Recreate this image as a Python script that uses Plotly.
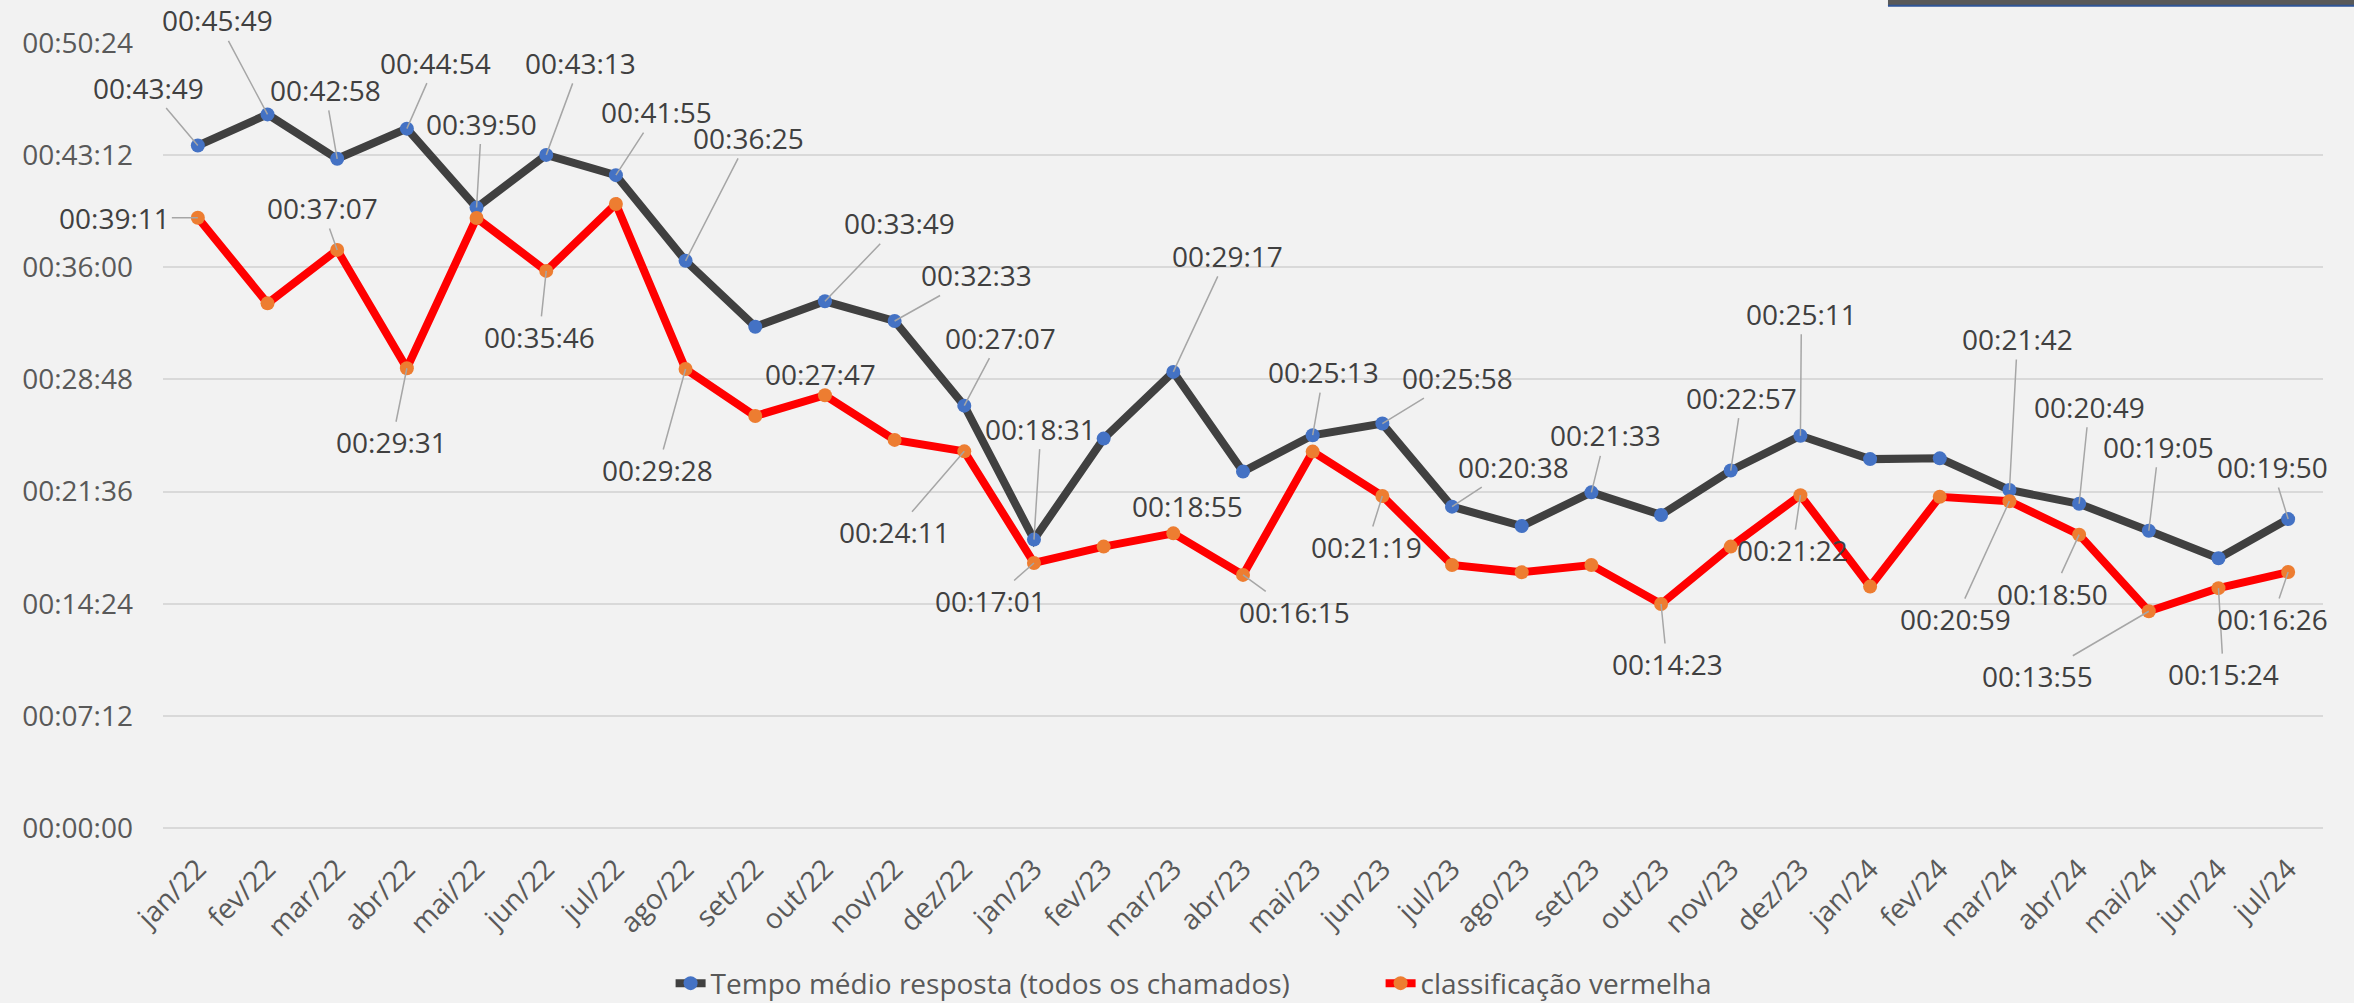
"""
Tempo médio de resposta vs classificação vermelha — gráfico de linhas (Plotly).
"""

import plotly.graph_objects as go

# ─── Dados ───────────────────────────────────────────────────────────────────

MESES = [
    "jan/22", "fev/22", "mar/22", "abr/22", "mai/22", "jun/22", "jul/22", "ago/22",
    "set/22", "out/22", "nov/22", "dez/22", "jan/23", "fev/23", "mar/23", "abr/23",
    "mai/23", "jun/23", "jul/23", "ago/23", "set/23", "out/23", "nov/23", "dez/23",
    "jan/24", "fev/24", "mar/24", "abr/24", "mai/24", "jun/24", "jul/24",
]

TEMPO_MEDIO = [
    "00:43:49", "00:45:49", "00:42:58", "00:44:54", "00:39:50", "00:43:13", "00:41:55", "00:36:25",
    "00:32:11", "00:33:49", "00:32:33", "00:27:07", "00:18:31", "00:25:00", "00:29:17", "00:22:53",
    "00:25:13", "00:25:58", "00:20:38", "00:19:23", "00:21:33", "00:20:06", "00:22:57", "00:25:11",
    "00:23:41", "00:23:44", "00:21:42", "00:20:49", "00:19:05", "00:17:19", "00:19:50",
]

VERMELHA = [
    "00:39:11", "00:33:41", "00:37:07", "00:29:31", "00:39:10", "00:35:46", "00:40:04", "00:29:28",
    "00:26:27", "00:27:47", "00:24:55", "00:24:11", "00:17:01", "00:18:04", "00:18:55", "00:16:15",
    "00:24:10", "00:21:19", "00:16:53", "00:16:25", "00:16:53", "00:14:23", "00:18:04", "00:21:22",
    "00:15:30", "00:21:16", "00:20:59", "00:18:50", "00:13:55", "00:15:24", "00:16:26",
]

Y_TICK_LABELS = ["00:00:00", "00:07:12", "00:14:24", "00:21:36", "00:28:48", "00:36:00", "00:43:12", "00:50:24"]

NOMES = ["Tempo médio resposta (todos os chamados)", "classificação vermelha"]

# ─── Rótulos : décalage (px) du texte par rapport au point, leader oui/non ──

LABELS_PRETO = {
    0: (-49, -58), 1: (-50, -94), 2: (-12, -69), 3: (29, -66), 4: (5, -84), 5: (34, -92),
    6: (41, -63), 7: (63, -123), 9: (75, -78), 10: (82, -46), 11: (36, -68), 12: (7, -111),
    14: (54, -116), 16: (11, -63), 17: (75, -46), 18: (61, -40), 20: (14, -57), 22: (11, -73),
    23: (1, -122), 26: (8, -151), 27: (10, -97), 28: (10, -84), 30: (-16, -52),
}
LABELS_VERMELHO = {
    0: (-83, 0), 2: (-15, -42), 3: (-15, 74), 5: (-7, 66), 7: (-28, 101), 9: (-4, -21),
    11: (-70, 81), 12: (-43, 38), 14: (14, -27), 15: (51, 37), 17: (-16, 51), 21: (6, 60),
    23: (-8, 55), 26: (-54, 118), 27: (-27, 59), 28: (-111, 65), 29: (5, 86), 30: (-16, 47),
}
SEM_LEADER_VERMELHO = {9, 14}

FONT = "Open Sans, Lato, sans-serif"
TXT = "#404040"
BG = "#F2F2F2"


def to_sec(s):
    h, m, ss = (int(p) for p in s.split(":"))
    return h * 3600 + m * 60 + ss


y_preto = [to_sec(v) for v in TEMPO_MEDIO]
y_verm = [to_sec(v) for v in VERMELHA]

fig = go.Figure()
fig.add_trace(go.Scatter(
    x=MESES, y=y_preto, name=NOMES[0], mode="lines+markers",
    line=dict(color="#404040", width=8),
    marker=dict(color="#4472C4", size=14, line=dict(width=0)),
))
fig.add_trace(go.Scatter(
    x=MESES, y=y_verm, name=NOMES[1], mode="lines+markers",
    line=dict(color="#FF0000", width=8),
    marker=dict(color="#ED7D31", size=14, line=dict(width=0)),
))

annotations = []


def add_labels(values, ys, offsets, no_leader=()):
    for i, (ax, ay) in offsets.items():
        base = dict(x=MESES[i], y=ys[i], xref="x", yref="y", text=values[i],
                    font=dict(family=FONT, size=28, color=TXT))
        if i in no_leader:
            annotations.append(dict(base, showarrow=False, xshift=ax, yshift=-ay))
        else:
            annotations.append(dict(base, showarrow=True, ax=ax, ay=ay, arrowhead=0,
                                    arrowwidth=1.5, arrowcolor="#A6A6A6", standoff=0))


add_labels(TEMPO_MEDIO, y_preto, LABELS_PRETO)
add_labels(VERMELHA, y_verm, LABELS_VERMELHO, SEM_LEADER_VERMELHO)

fig.update_layout(
    width=2354,
    height=1003,
    margin=dict(l=163, r=31, t=43, b=175, autoexpand=False),
    paper_bgcolor=BG,
    plot_bgcolor=BG,
    font=dict(family=FONT, size=28, color="#595959"),
    showlegend=True,
    legend=dict(orientation="h", x=0.235, xanchor="left", y=-0.198, yanchor="middle",
                entrywidth=665, font=dict(size=28, color="#595959"), bgcolor="rgba(0,0,0,0)"),
    annotations=annotations,
    shapes=[
        dict(type="rect", xref="paper", yref="paper", x0=0.7986, x1=1.02, y0=1.0471, y1=1.06,
             fillcolor="#595959", line=dict(width=0), layer="above"),
        dict(type="line", xref="paper", yref="paper", x0=0.7986, x1=1.02, y0=1.0476, y1=1.0476,
             line=dict(color="#2F5597", width=2)),
    ],
    xaxis=dict(
        type="category", range=[-0.5, 30.5], showgrid=False, zeroline=False, showline=False,
        tickangle=-45, tickfont=dict(size=28, color="#595959"), ticks="", ticklabelstandoff=18,
    ),
    yaxis=dict(
        range=[0, 3024], tickvals=[i * 432 for i in range(len(Y_TICK_LABELS))], ticktext=Y_TICK_LABELS,
        showgrid=True, gridcolor="#D9D9D9", gridwidth=2, zeroline=True, zerolinecolor="#D9D9D9",
        zerolinewidth=2, showline=False, tickfont=dict(size=28, color="#595959"), ticklabelstandoff=29,
    ),
)

# la page HTML a une marge de 8px par défaut : on la retire
fig.write_html("out.html", config={"displayModeBar": False},
               post_script="document.body.style.margin='0';")
